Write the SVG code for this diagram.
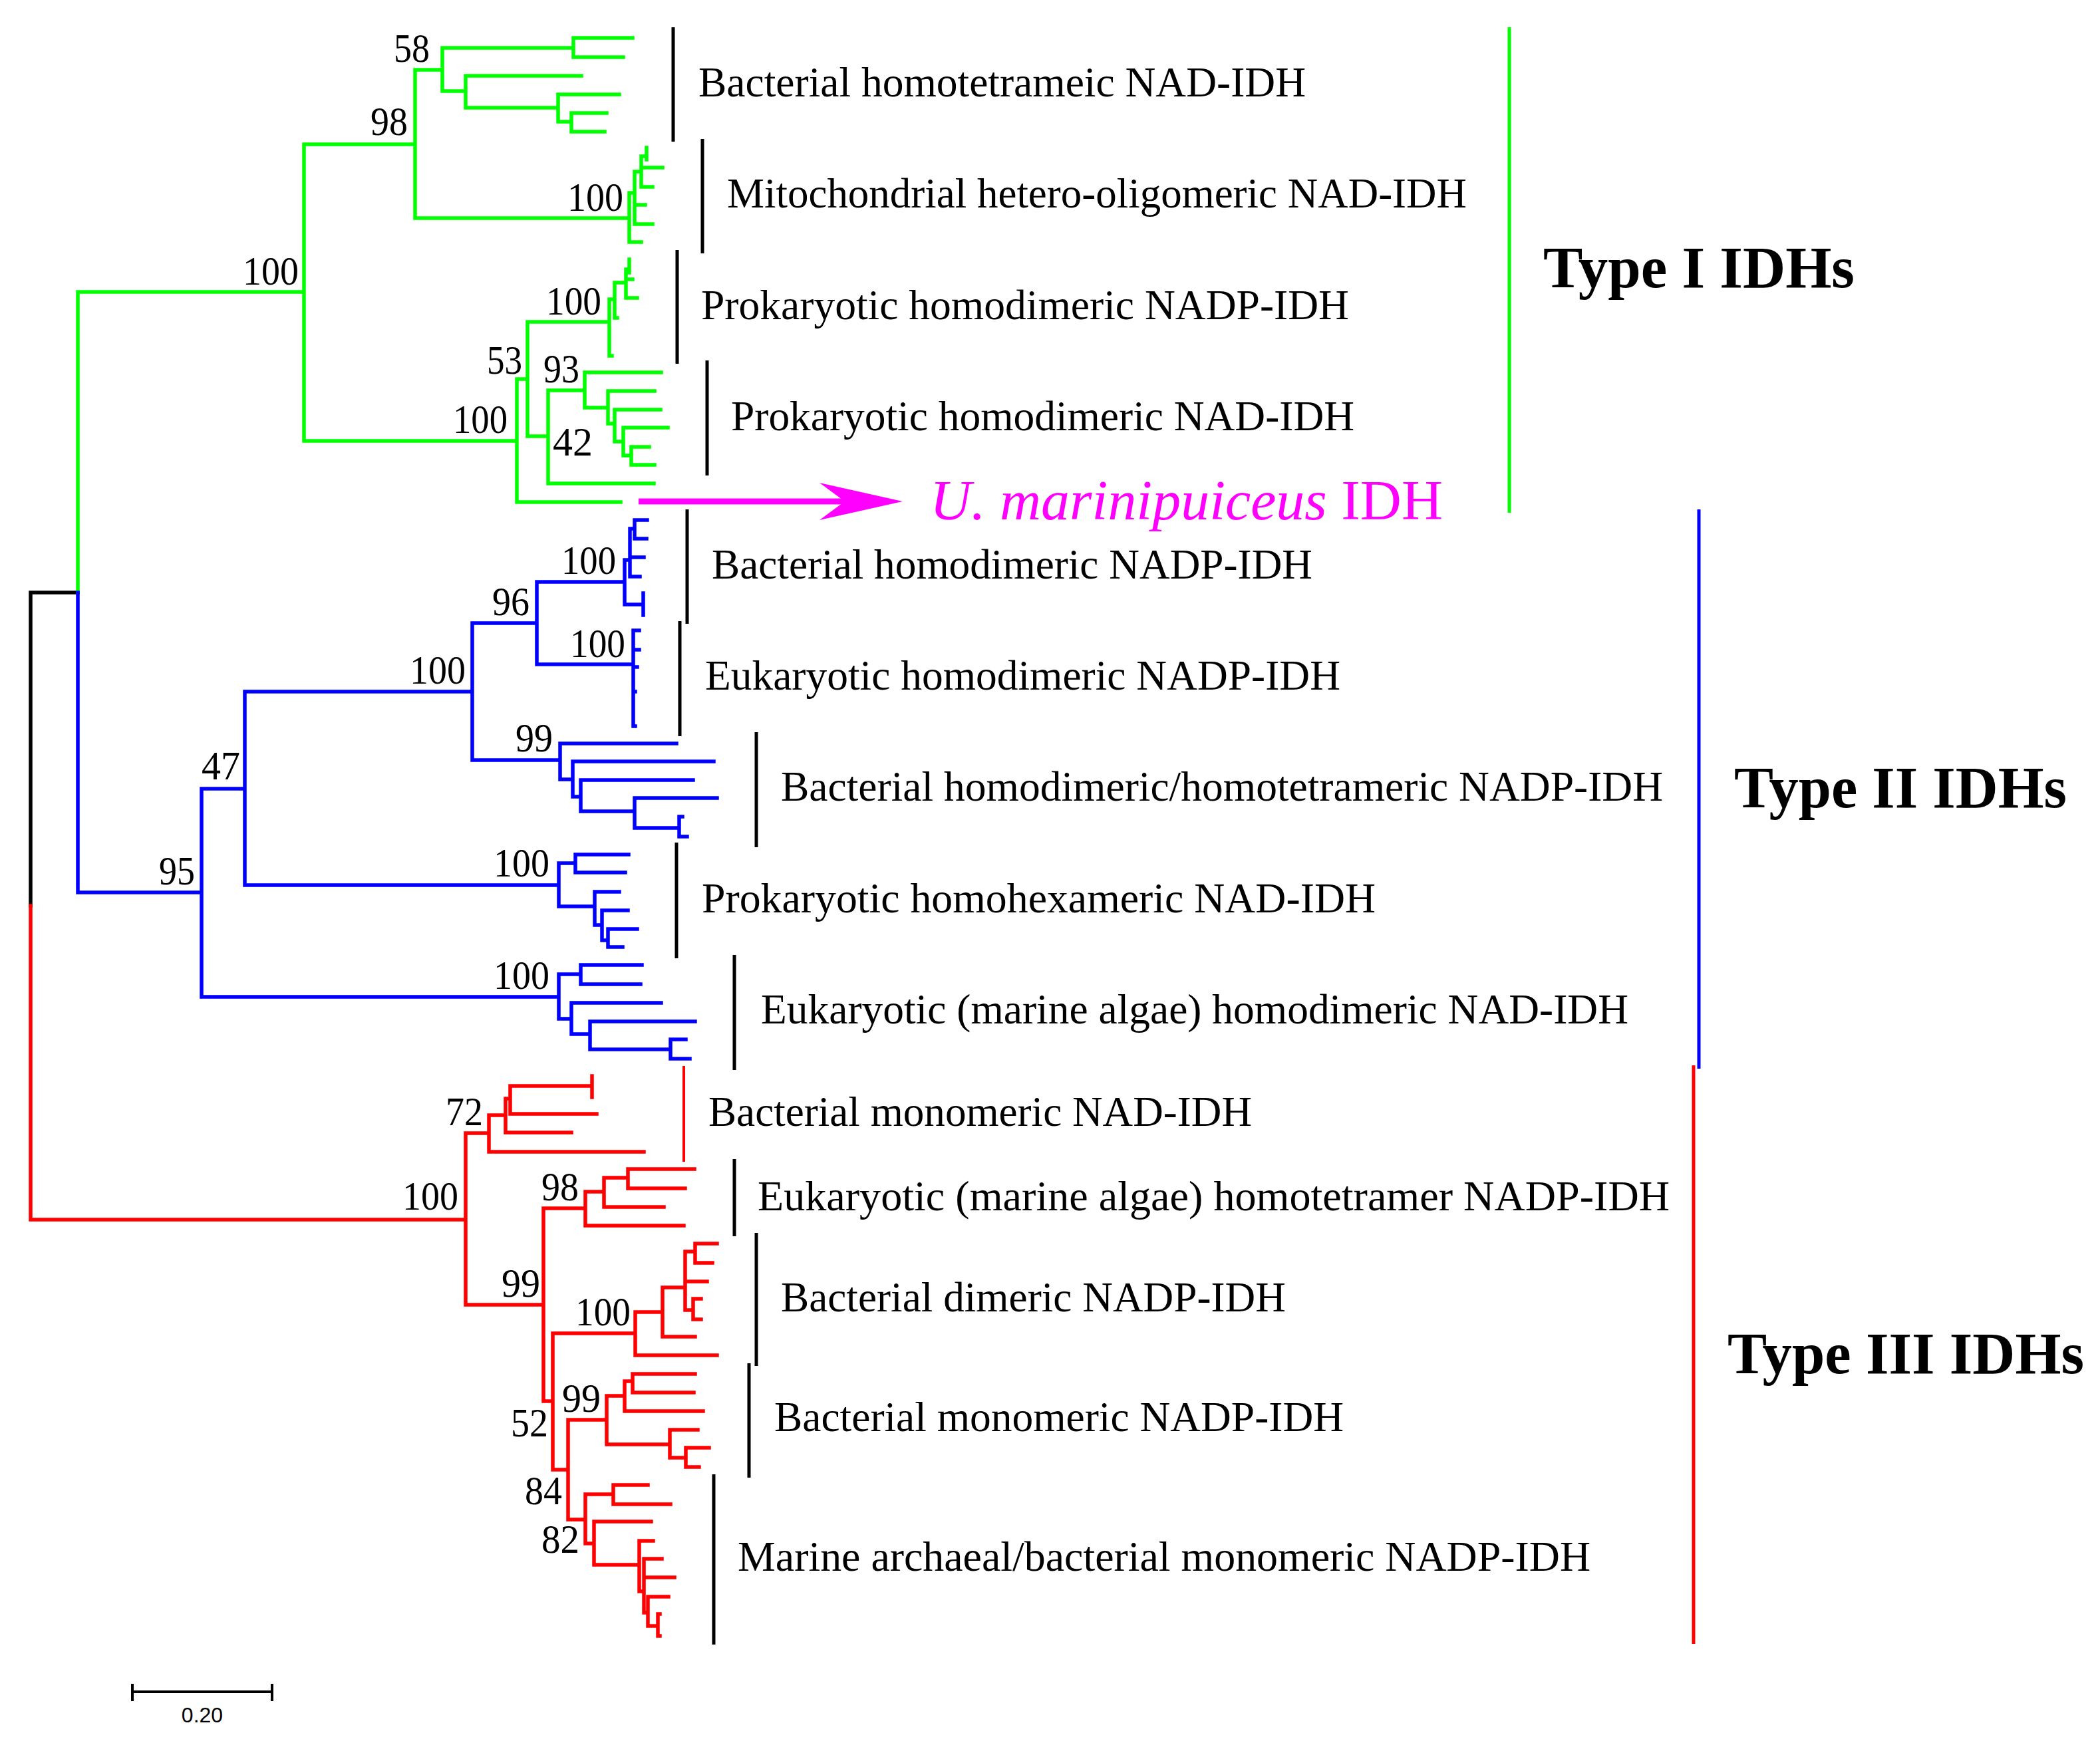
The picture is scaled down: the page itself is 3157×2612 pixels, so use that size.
<svg xmlns="http://www.w3.org/2000/svg" width="3157" height="2612" viewBox="0 0 3157 2612">
<style>
.tree{fill:none;stroke-width:5.5;stroke-linecap:square;stroke-linejoin:miter}
.g{stroke:#00ff00}.b{stroke:#0000ff}.r{stroke:#ff0000}.k{stroke:#000}
.bs{font-family:"Liberation Serif","Times New Roman",serif;font-size:61px;fill:#000;text-anchor:end}
.lab{font-family:"Liberation Serif","Times New Roman",serif;font-size:64px;fill:#000}
.bar{stroke:#000;stroke-width:5;fill:none}
.type{font-family:"Liberation Serif","Times New Roman",serif;font-size:89px;font-weight:bold;fill:#000}
</style>
<rect width="3157" height="2612" fill="#fff"/>
<g id="connectors">
<path class="tree k" d="M46 891 H117 M46 891 V1362"/>
<path class="tree g" d="M117 439 H457 M117 439 V891 M457 217 V663 M457 217 H624 M624 105 V328 M624 105 H665 M665 72 V137 M665 72 H862 M862 57 V86 M862 57 H951 M862 86 H937 M665 137 H700 M700 114 V162 M700 114 H874 M700 162 H839 M839 142 V183 M839 142 H931 M839 183 H859 M859 170 V198 M859 170 H912 M859 198 H909 M624 328 H946 M946 290 V364 M946 364 H964 M946 290 H954 M954 258 V337 M954 337 H981 M954 308 H970 M954 258 H964 M964 235 V281 M964 281 H981 M964 252 H996 M964 235 H972 M972 222 V240 M457 663 H777 M777 570 V755 M777 755 H933 M777 570 H793 M793 484 V656 M793 484 H916 M916 450 V535 M916 535 H920 M916 450 H924 M924 425 V478 M924 478 H928 M924 425 H941 M941 405 V448 M941 448 H958 M941 420 H951 M941 405 H946 M946 390 V410 M793 656 H824 M824 587 V727 M824 727 H983 M824 587 H879 M879 560 V613 M879 560 H994 M879 613 H914 M914 588 V637 M914 588 H984 M914 637 H924 M924 616 V664 M924 616 H993 M924 664 H937 M937 643 V685 M937 643 H1004 M937 685 H949 M949 672 V699 M949 672 H976 M949 699 H984"/>
<path class="tree b" d="M117 891 V1342 M117 1342 H303 M303 1186 V1499 M303 1186 H368 M368 1040 V1331 M368 1040 H710 M710 937 V1143 M710 937 H807 M807 875 V999 M807 875 H939 M939 842 V909 M939 842 H947 M947 795 V867 M947 795 H954 M954 782 V810 M954 782 H973 M954 810 H972 M947 838 H968 M947 867 H962 M939 909 H967 M967 892 V925 M807 999 H952 M952 948 V1092 M952 948 H961 M952 977 H961 M952 1003 H958 M952 1040 H955 M952 1092 H955 M710 1143 H842 M842 1118 V1172 M842 1118 H1017 M842 1172 H861 M861 1145 V1198 M861 1145 H1073 M861 1198 H873 M873 1173 V1220 M873 1173 H1042 M873 1220 H954 M954 1200 V1245 M954 1200 H1078 M954 1245 H1021 M1021 1228 V1258 M1021 1228 H1026 M1021 1258 H1033 M368 1331 H840 M840 1298 V1363 M840 1298 H865 M865 1285 V1312 M865 1285 H945 M865 1312 H940 M840 1363 H894 M894 1341 V1391 M894 1341 H931 M894 1391 H905 M905 1369 V1414 M905 1369 H944 M905 1414 H914 M914 1397 V1424 M914 1397 H958 M914 1424 H936 M303 1499 H840 M840 1465 V1532 M840 1465 H873 M873 1451 V1480 M873 1451 H965 M873 1480 H963 M840 1532 H859 M859 1508 V1555 M859 1508 H994 M859 1555 H887 M887 1536 V1578 M887 1536 H1045 M887 1578 H1008 M1008 1563 V1592 M1008 1563 H1031 M1008 1592 H1037"/>
<path class="tree r" d="M46 1362 V1834 M46 1834 H700 M700 1704 V1962 M700 1704 H735 M735 1677 V1732 M735 1732 H968 M735 1677 H760 M760 1652 V1703 M760 1703 H859 M760 1652 H767 M767 1633 V1675 M767 1675 H897 M767 1633 H890 M890 1618 V1650 M700 1962 H817 M817 1817 V2107 M817 1817 H880 M880 1792 V1843 M880 1843 H1028 M880 1792 H908 M908 1771 V1815 M908 1815 H998 M908 1771 H944 M944 1758 V1787 M944 1758 H1044 M944 1787 H1030 M817 2107 H831 M831 2005 V2210 M831 2005 H955 M955 1973 V2038 M955 2038 H1078 M955 1973 H996 M996 1936 V2010 M996 2010 H1045 M996 1936 H1030 M1030 1882 V1970 M1030 1927 H1063 M1030 1882 H1045 M1045 1870 V1899 M1045 1870 H1078 M1045 1899 H1071 M1030 1970 H1042 M1042 1953 V1984 M1042 1953 H1054 M1042 1984 H1054 M831 2210 H854 M854 2135 V2285 M854 2135 H912 M912 2099 V2172 M912 2099 H939 M939 2077 V2122 M939 2122 H1057 M939 2077 H951 M951 2066 V2094 M951 2066 H1045 M951 2094 H1043 M912 2172 H1007 M1007 2150 V2192 M1007 2150 H1049 M1007 2192 H1031 M1031 2177 V2206 M1031 2177 H1066 M1031 2206 H1051 M854 2285 H880 M880 2247 V2321 M880 2247 H922 M922 2233 V2262 M922 2233 H974 M922 2262 H1008 M880 2321 H893 M893 2288 V2353 M893 2288 H979 M893 2353 H961 M961 2317 V2393 M961 2317 H982 M961 2393 H968 M968 2344 V2425 M968 2344 H995 M968 2372 H1014 M968 2425 H974 M974 2401 V2445 M974 2401 H1005 M974 2445 H989 M989 2427 V2460 M989 2427 H992 M989 2460 H992"/>
</g>
<g id="bootstrap">
<text class="bs" x="646" y="93" textLength="54" lengthAdjust="spacingAndGlyphs">58</text>
<text class="bs" x="613" y="203" textLength="56" lengthAdjust="spacingAndGlyphs">98</text>
<text class="bs" x="937" y="317" textLength="84" lengthAdjust="spacingAndGlyphs">100</text>
<text class="bs" x="449" y="428" textLength="84" lengthAdjust="spacingAndGlyphs">100</text>
<text class="bs" x="904" y="473" textLength="83" lengthAdjust="spacingAndGlyphs">100</text>
<text class="bs" x="785" y="562" textLength="53" lengthAdjust="spacingAndGlyphs">53</text>
<text class="bs" x="871" y="575" textLength="54" lengthAdjust="spacingAndGlyphs">93</text>
<text class="bs" x="763" y="651" textLength="82" lengthAdjust="spacingAndGlyphs">100</text>
<text class="bs" x="891" y="685" textLength="60" lengthAdjust="spacingAndGlyphs">42</text>
<text class="bs" x="926" y="863" textLength="82" lengthAdjust="spacingAndGlyphs">100</text>
<text class="bs" x="796" y="925" textLength="56" lengthAdjust="spacingAndGlyphs">96</text>
<text class="bs" x="940" y="988" textLength="83" lengthAdjust="spacingAndGlyphs">100</text>
<text class="bs" x="700" y="1028" textLength="84" lengthAdjust="spacingAndGlyphs">100</text>
<text class="bs" x="831" y="1130" textLength="56" lengthAdjust="spacingAndGlyphs">99</text>
<text class="bs" x="361" y="1172" textLength="58" lengthAdjust="spacingAndGlyphs">47</text>
<text class="bs" x="826" y="1318" textLength="84" lengthAdjust="spacingAndGlyphs">100</text>
<text class="bs" x="293" y="1330" textLength="54" lengthAdjust="spacingAndGlyphs">95</text>
<text class="bs" x="826" y="1487" textLength="84" lengthAdjust="spacingAndGlyphs">100</text>
<text class="bs" x="726" y="1692" textLength="56" lengthAdjust="spacingAndGlyphs">72</text>
<text class="bs" x="870" y="1805" textLength="56" lengthAdjust="spacingAndGlyphs">98</text>
<text class="bs" x="689" y="1819" textLength="84" lengthAdjust="spacingAndGlyphs">100</text>
<text class="bs" x="812" y="1950" textLength="58" lengthAdjust="spacingAndGlyphs">99</text>
<text class="bs" x="948" y="1993" textLength="83" lengthAdjust="spacingAndGlyphs">100</text>
<text class="bs" x="903" y="2123" textLength="58" lengthAdjust="spacingAndGlyphs">99</text>
<text class="bs" x="824" y="2160" textLength="56" lengthAdjust="spacingAndGlyphs">52</text>
<text class="bs" x="845" y="2262" textLength="56" lengthAdjust="spacingAndGlyphs">84</text>
<text class="bs" x="871" y="2335" textLength="57" lengthAdjust="spacingAndGlyphs">82</text>
</g>
<g id="clade-1"><line class="bar" x1="1012" y1="41" x2="1012" y2="213"/><text class="lab" x="1050" y="145" textLength="913" lengthAdjust="spacingAndGlyphs">Bacterial homotetrameic NAD-IDH</text></g>
<g id="clade-2"><line class="bar" x1="1056" y1="209" x2="1056" y2="381"/><text class="lab" x="1093" y="312" textLength="1112" lengthAdjust="spacingAndGlyphs">Mitochondrial hetero-oligomeric NAD-IDH</text></g>
<g id="clade-3"><line class="bar" x1="1018" y1="376" x2="1018" y2="547"/><text class="lab" x="1054" y="480" textLength="974" lengthAdjust="spacingAndGlyphs">Prokaryotic homodimeric NADP-IDH</text></g>
<g id="clade-4"><line class="bar" x1="1063" y1="542" x2="1063" y2="715"/><text class="lab" x="1099" y="647" textLength="937" lengthAdjust="spacingAndGlyphs">Prokaryotic homodimeric NAD-IDH</text></g>
<g id="umarinipuiceus">
<line x1="960" y1="754" x2="1270" y2="754" stroke="#ff00ff" stroke-width="9"/>
<polygon points="1357,754 1232,726 1270,754 1232,782" fill="#ff00ff"/>
<text x="1398" y="781" font-family="'Liberation Serif','Times New Roman',serif" font-size="85" fill="#ff00ff" textLength="771" lengthAdjust="spacingAndGlyphs"><tspan font-style="italic">U. marinipuiceus</tspan> IDH</text>
</g>
<g id="clade-5"><line class="bar" x1="1033" y1="766" x2="1033" y2="938"/><text class="lab" x="1070" y="870" textLength="903" lengthAdjust="spacingAndGlyphs">Bacterial homodimeric NADP-IDH</text></g>
<g id="clade-6"><line class="bar" x1="1022" y1="934" x2="1022" y2="1107"/><text class="lab" x="1060" y="1037" textLength="955" lengthAdjust="spacingAndGlyphs">Eukaryotic homodimeric NADP-IDH</text></g>
<g id="clade-7"><line class="bar" x1="1137" y1="1101" x2="1137" y2="1274"/><text class="lab" x="1174" y="1204" textLength="1326" lengthAdjust="spacingAndGlyphs">Bacterial homodimeric/homotetrameric NADP-IDH</text></g>
<g id="clade-8"><line class="bar" x1="1017" y1="1267" x2="1017" y2="1441"/><text class="lab" x="1055" y="1372" textLength="1013" lengthAdjust="spacingAndGlyphs">Prokaryotic homohexameric NAD-IDH</text></g>
<g id="clade-9"><line class="bar" x1="1104" y1="1436" x2="1104" y2="1609"/><text class="lab" x="1144" y="1539" textLength="1304" lengthAdjust="spacingAndGlyphs">Eukaryotic (marine algae) homodimeric NAD-IDH</text></g>
<g id="clade-10"><line x1="1028" y1="1603" x2="1028" y2="1747" stroke="#ff0000" stroke-width="4"/><text class="lab" x="1065" y="1693" textLength="817" lengthAdjust="spacingAndGlyphs">Bacterial monomeric NAD-IDH</text></g>
<g id="clade-11"><line class="bar" x1="1104" y1="1743" x2="1104" y2="1859"/><text class="lab" x="1139" y="1820" textLength="1371" lengthAdjust="spacingAndGlyphs">Eukaryotic (marine algae) homotetramer NADP-IDH</text></g>
<g id="clade-12"><line class="bar" x1="1137" y1="1854" x2="1137" y2="2054"/><text class="lab" x="1174" y="1972" textLength="759" lengthAdjust="spacingAndGlyphs">Bacterial dimeric NADP-IDH</text></g>
<g id="clade-13"><line class="bar" x1="1126" y1="2050" x2="1126" y2="2222"/><text class="lab" x="1164" y="2152" textLength="856" lengthAdjust="spacingAndGlyphs">Bacterial monomeric NADP-IDH</text></g>
<g id="clade-14"><line class="bar" x1="1073" y1="2217" x2="1073" y2="2473"/><text class="lab" x="1109" y="2362" textLength="1282" lengthAdjust="spacingAndGlyphs">Marine archaeal/bacterial monomeric NADP-IDH</text></g>
<g id="type-1"><line x1="2269" y1="41" x2="2269" y2="771" stroke="#00ff00" stroke-width="5"/><text class="type" x="2320" y="432" textLength="468" lengthAdjust="spacingAndGlyphs">Type I IDHs</text></g>
<g id="type-2"><line x1="2554" y1="766" x2="2554" y2="1607" stroke="#0000ff" stroke-width="5"/><text class="type" x="2607" y="1214" textLength="500" lengthAdjust="spacingAndGlyphs">Type II IDHs</text></g>
<g id="type-3"><line x1="2546" y1="1602" x2="2546" y2="2472" stroke="#ff0000" stroke-width="5"/><text class="type" x="2597" y="2065" textLength="536" lengthAdjust="spacingAndGlyphs">Type III IDHs</text></g>
<g id="scale-bar">
<path d="M199 2544 H409 M199 2532 V2558 M409 2532 V2558" stroke="#000" stroke-width="4" fill="none"/>
<text x="304" y="2590" font-family="'Liberation Sans',Arial,sans-serif" font-size="32" text-anchor="middle" fill="#000">0.20</text>
</g>
</svg>
